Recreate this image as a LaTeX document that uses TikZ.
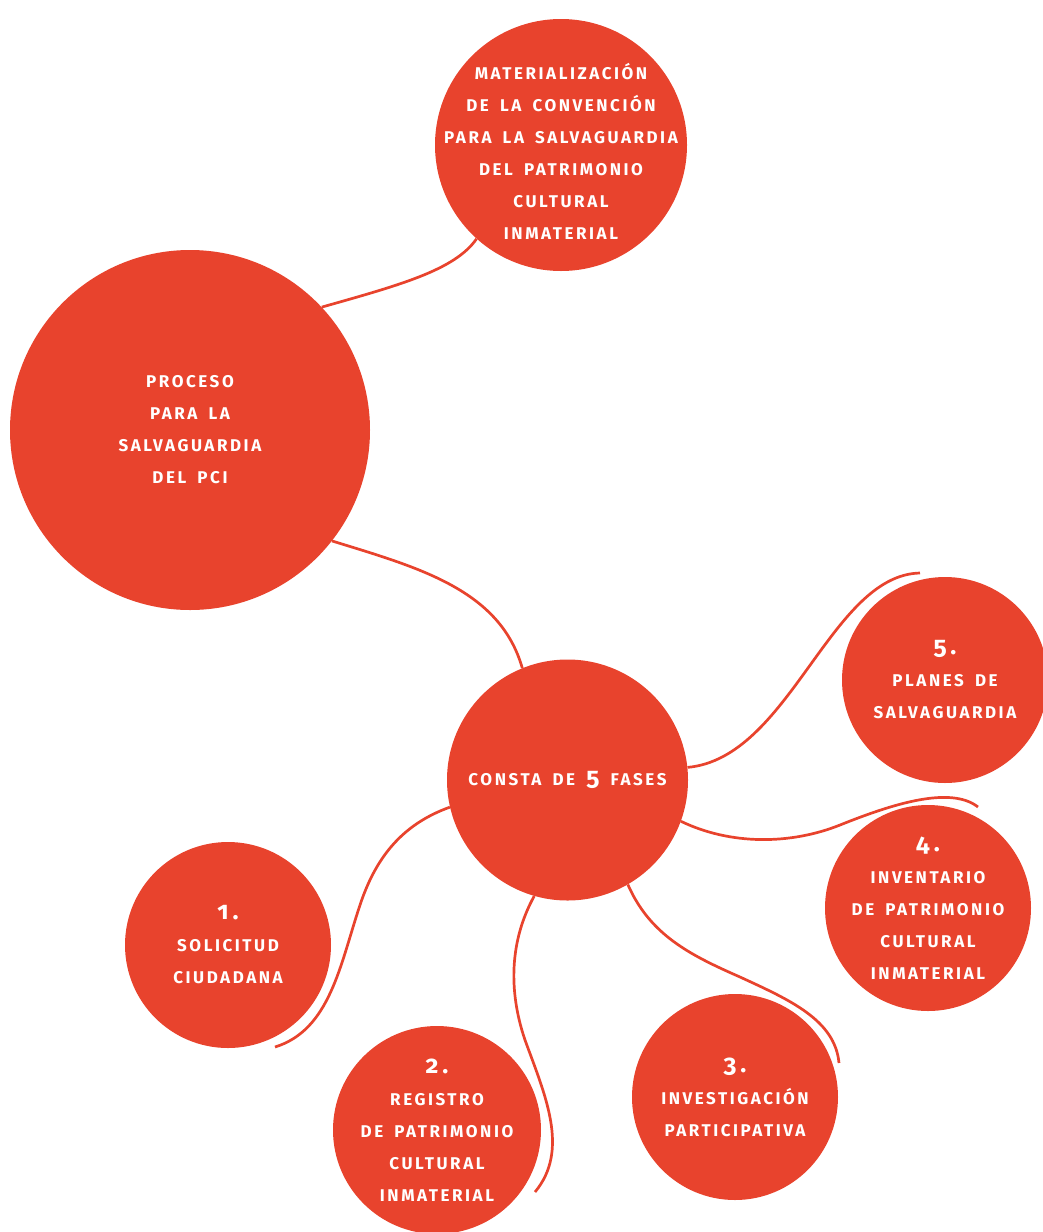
\documentclass[tikz,border=0pt]{standalone}
\usepackage{fontspec}
\newfontfamily\pcifont[LetterSpace=15,WordSpace=1.7,Numbers=OldStyle]{Fira Sans}
\definecolor{rojo}{RGB}{232,67,45}
\tikzset{
  burbuja/.style={circle, fill=rojo, text=white, inner sep=-45pt, align=center,
    font=\pcifont\bfseries\fontsize{17}{32}\selectfont},
  enlace/.style={draw=rojo, line width=2.7pt},
}
\newcommand{\numero}[1]{{\fontsize{25}{32}\selectfont #1}}

\begin{document}
\begin{tikzpicture}[x=1pt,y=-1pt]
			%%%%% START %%%%%
			\useasboundingbox (0,0) rectangle (1043,1232);
			
			\node[burbuja, minimum size=252pt] (conv) at (561,145)
				{\rule{0pt}{28pt}MATERIALIZACIÓN\\DE LA CONVENCIÓN\\PARA LA SALVAGUARDIA\\DEL PATRIMONIO\\CULTURAL\\INMATERIAL};
			\node[burbuja, minimum size=360pt] (proceso) at (190,430)
				{PROCESO\\PARA LA\\SALVAGUARDIA\\DEL PCI};
			\node[burbuja, minimum size=241pt] (fases) at (567.5,780)
				{CONSTA DE \numero{5} FASES};
			
			\node[burbuja, minimum size=206pt] (f1) at (228,945) {\numero{1.}\\SOLICITUD\\CIUDADANA};
			\node[burbuja, minimum size=208pt] (f2) at (437,1130) {\numero{2.}\\REGISTRO\\DE PATRIMONIO\\CULTURAL\\INMATERIAL};
			\node[burbuja, minimum size=206pt] (f3) at (735,1097) {\numero{3.}\\INVESTIGACIÓN\\PARTICIPATIVA};
			\node[burbuja, minimum size=206pt] (f4) at (928,908) {\numero{4.}\\INVENTARIO\\DE PATRIMONIO\\CULTURAL\\INMATERIAL};
			\node[burbuja, minimum size=206pt] (f5) at (945,680) {\numero{5.}\\PLANES DE\\SALVAGUARDIA};
			
			% colas libres
			\coordinate (cola1) at (275,1047);
			\coordinate (cola2) at (535,1192);
			\coordinate (cola3) at (839,1063);
			\coordinate (cola4) at (978,807);
			\coordinate (cola5) at (920,573);
			
			\draw[enlace] (proceso.43) .. controls (400,285) and (455,270) .. (conv.228);
			\draw[enlace] (proceso.-38) .. controls (420,568) and (500,590) .. (fases.112);
			
			\draw[enlace] (fases.193) .. controls (400,825) and (375,860) .. (360,905)
				.. controls (340,965) and (330,1030) .. (cola1);
			\draw[enlace] (fases.-106) .. controls (510,940) and (508,990) .. (525,1040)
				.. controls (545,1095) and (570,1150) .. (cola2);
			\draw[enlace] (fases.-60) .. controls (650,935) and (690,955) .. (740,977)
				.. controls (790,1000) and (835,1020) .. (cola3);
			\draw[enlace] (fases.-20) .. controls (730,845) and (790,845) .. (840,825)
				.. controls (890,805) and (950,785) .. (cola4);
			\draw[enlace] (fases.6) .. controls (790,758) and (830,575) .. (cola5);
			
			%%%%% END %%%%%
\end{tikzpicture}
\end{document}
